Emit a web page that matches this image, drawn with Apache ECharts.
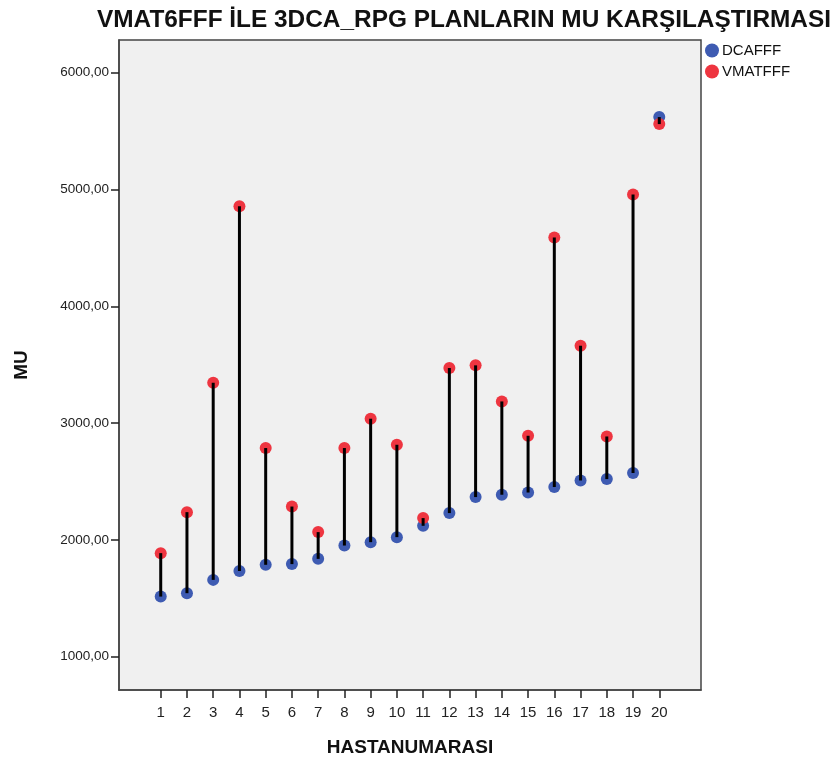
<!DOCTYPE html>
<html>
<head>
<meta charset="utf-8">
<script src="https://cdn.jsdelivr.net/npm/echarts@6/dist/echarts.min.js"></script>
<style>html,body{margin:0;padding:0;background:#fff}#c{width:834px;height:764px}</style>
</head>
<body>
<div id="c"></div>
<script>
const categories = [1,2,3,4,5,6,7,8,9,10,11,12,13,14,15,16,17,18,19,20];
const dcaValues = [1514,1543,1657,1732,1786,1792,1837,1951,1980,2023,2120,2229,2366,2386,2405,2452,2508,2520,2572,5620];
const vmatValues = [1886,2237,3345,4857,2786,2285,2066,2786,3037,2814,2186,3471,3494,3185,2891,4589,3662,2885,4957,5560];
const yTicks = [1000,2000,3000,4000,5000,6000];

const chart = echarts.init(document.getElementById('c'), null, {renderer:'canvas'});
const sans = '"Liberation Sans", Arial, sans-serif';

chart.setOption({
  animation: false,
  backgroundColor: '#ffffff',
  title: {
    text: 'VMAT6FFF İLE 3DCA_RPG PLANLARIN MU KARŞILAŞTIRMASI',
    left: 92, top: 3,
    textStyle: {fontFamily: sans, fontWeight: 'bold', fontSize: 24.4, color: '#111'}
  },
  legend: {
    orient: 'vertical', left: 700, top: 38,
    icon: 'circle', itemWidth: 14, itemHeight: 14, itemGap: 6,
    textStyle: {fontFamily: sans, fontSize: 15, color: '#111', padding: [0,0,0,-2]},
    data: ['DCAFFF', 'VMATFFF']
  },
  grid: {
    left: 119, top: 40, right: 133, bottom: 74,
    show: true, backgroundColor: '#F0F0F0', borderColor: '#444', borderWidth: 1.5
  },
  xAxis: {
    type: 'value', min: -0.59, max: 21.59,
    name: 'HASTANUMARASI', nameLocation: 'middle', nameGap: 48,
    nameTextStyle: {fontFamily: sans, fontWeight: 'bold', fontSize: 19, color: '#111'},
    axisLine: {show: true, onZero: false, lineStyle: {color: '#444', width: 1.5}},
    axisTick: {show: true, customValues: categories, length: 8, lineStyle: {color: '#222', width: 1.5}},
    axisLabel: {customValues: categories, margin: 15, fontFamily: sans, fontSize: 15, color: '#222'},
    splitLine: {show: false}
  },
  yAxis: {
    type: 'value', min: 714, max: 6280,
    name: 'MU', nameLocation: 'middle', nameGap: 88, nameRotate: 90,
    nameTextStyle: {fontFamily: sans, fontWeight: 'bold', fontSize: 19, color: '#111'},
    axisLine: {show: true, onZero: false, lineStyle: {color: '#444', width: 1.5}},
    axisTick: {show: true, customValues: yTicks, length: 8, lineStyle: {color: '#222', width: 1.5}},
    axisLabel: {customValues: yTicks, margin: 10, fontFamily: sans, fontSize: 13.5, color: '#222',
      formatter: v => v.toFixed(2).replace('.', ',')},
    splitLine: {show: false}
  },
  series: [
    {
      name: 'DCAFFF', type: 'scatter', symbol: 'circle', symbolSize: 12, z: 2,
      itemStyle: {color: '#3E5BB2', opacity: 1},
      data: categories.map((c, i) => [c, dcaValues[i]])
    },
    {
      name: 'VMATFFF', type: 'scatter', symbol: 'circle', symbolSize: 12, z: 2,
      itemStyle: {color: '#EE3540', opacity: 1},
      data: categories.map((c, i) => [c, vmatValues[i]])
    },
    {
      name: 'link', type: 'custom', z: 5, silent: true,
      encode: {x: 0, y: [1, 2]},
      data: categories.map((c, i) => [c, dcaValues[i], vmatValues[i]]),
      renderItem: function (params, api) {
        const p1 = api.coord([api.value(0), api.value(1)]);
        const p2 = api.coord([api.value(0), api.value(2)]);
        return {type: 'line', shape: {x1: p1[0], y1: p1[1], x2: p2[0], y2: p2[1]},
          style: {stroke: '#000', lineWidth: 3}};
      }
    }
  ]
});
</script>
</body>
</html>
